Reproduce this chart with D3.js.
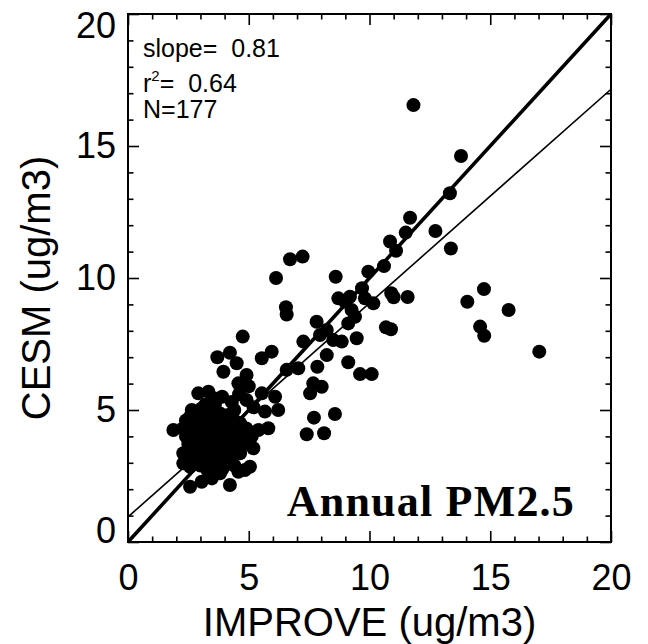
<!DOCTYPE html>
<html>
<head>
<meta charset="utf-8">
<script src="https://cdn.jsdelivr.net/npm/d3@7"></script>
<style>
  body { margin: 0; background: #fff; }
  svg { display: block; }
  text { font-family: "Liberation Sans", Arial, Helvetica, sans-serif; fill: #000; white-space: pre; }
</style>
</head>
<body>
<svg width="648" height="644"></svg>
<script>
// ---- data (IMPROVE obs, CESM model), ug/m3 ----
const spreadSites = [
  [11.82,16.55],[13.79,14.62],[13.33,13.21],[11.68,12.28],[11.5,11.72],[10.85,11.38],[11.1,11.03],[10.6,10.45],[12.73,11.78],[13.37,11.12],
  [10.9,9.42],[11.0,9.27],[11.58,9.28],[14.74,9.58],[14.05,9.1],[15.76,8.79],[10.68,8.13],[10.89,8.06],[14.58,8.16],[14.75,7.81],
  [17.03,7.21],[6.71,10.71],[7.23,10.81],[6.13,10.0],[8.6,10.05],[9.95,10.24],[9.69,9.61],[8.71,9.23],[9.19,9.29],[8.99,9.1],
  [9.81,9.23],[10.16,9.04],[9.26,8.79],[9.4,8.53],[9.12,8.28],[7.81,8.34],[8.23,8.03],[7.95,7.84],[8.5,7.65],[8.85,7.59],
  [9.47,7.72],[7.26,7.59],[8.23,7.08],[6.57,6.52],[7.05,6.58],[7.84,6.64],[9.12,6.81],[9.61,6.36],[10.09,6.36],[7.67,6.01],
  [8.02,5.88],[7.54,5.63],[7.7,4.71],[8.57,4.85],[7.4,4.08],[8.12,4.12],[6.54,8.89],[6.57,8.62],[4.75,7.78],[3.7,7.0],
  [4.22,7.17],[3.95,6.45],[4.5,6.77],[4.57,6.01],[2.91,5.63],[3.33,5.69],[3.6,5.44],[2.64,5.0],[3.05,5.06],[3.4,4.94],
  [3.81,4.87],[4.15,4.81],[1.88,4.24],[2.57,4.75],[2.29,3.36],[2.57,2.85],[2.57,2.09],[3.05,2.28],[3.47,2.41],[3.81,2.6],
  [4.22,2.16],[4.57,2.66],[5.54,6.96],[5.95,7.21],[4.91,6.33],[5.54,5.63],[6.09,5.5],[4.91,5.38],[6.22,5.0],[5.67,4.94],
  [5.81,4.31],[5.4,4.24],[5.12,3.99],[4.64,4.5],[5.19,3.55],[4.22,3.23],[4.64,3.36],[4.84,2.73],[5.05,2.85],[3.88,3.99],
  [4.15,3.74]
];
// the dense low-concentration cluster (mostly overlapping markers)
const clusterSites = [
  [2.4,4.6],[2.8,4.6],[3.2,4.6],[3.6,4.6],[4.0,4.6],[4.4,4.6],
  [2.6,4.3],[3.0,4.3],[3.3,4.3],[3.7,4.3],[4.1,4.3],[4.5,4.3],[4.9,4.3],
  [2.4,4.0],[2.8,4.0],[3.1,4.0],[3.5,4.0],[4.3,4.0],[4.7,4.0],
  [2.5,3.7],[2.9,3.7],[3.2,3.7],[3.6,3.7],[4.0,3.7],[4.4,3.7],[4.8,3.7],
  [2.6,3.4],[3.0,3.4],[3.4,3.4],[3.8,3.4],[4.1,3.4],
  [2.7,3.1],[3.1,3.1],[3.5,3.1],[3.9,3.1],
  [3.0,2.9],[3.4,2.9],[3.7,2.9],
  [3.9,5.5],[4.3,5.3],[4.6,5.6],[5.0,5.9],[5.2,5.1],[4.4,5.0],
  [2.9,4.8],[3.3,4.8],[3.7,4.8],
  [2.7,4.45],[3.1,4.45],[3.5,4.45],[3.9,4.45],[4.3,4.45],
  [2.5,4.15],[2.9,4.15],[3.3,4.15],[3.7,4.15],[4.0,4.15],
  [2.7,3.85],[3.0,3.85],[3.4,3.85],[3.8,3.85],[4.2,3.85],
  [2.8,3.55],[3.2,3.55],[3.6,3.55],[4.0,3.55],
  [2.9,3.25],[3.3,3.25],[3.7,3.25],
  [3.2,5.2],[3.6,5.2],
  [3.3,2.7],[2.29,4.31],[2.29,2.98],[3.9,2.75],[4.4,2.9]
];
const sites = spreadSites.concat(clusterSites);

const fitSlope = 0.81;
const fitIntercept = 0.95;
const statLines = ['slope=  0.81', '=  0.64', 'N=177'];
const axisMax = 20;
const majorTicks = [0, 5, 10, 15, 20];
const minorTicks = d3.range(0, 21, 1).filter(v => v % 5 !== 0);

// ---- layout ----
const svg = d3.select('svg');
const plot = { left: 128, right: 611, top: 14, bottom: 542 };
const plotW = plot.right - plot.left;
const plotH = plot.bottom - plot.top;

const x = d3.scaleLinear().domain([0, axisMax]).range([0, plotW]);
const y = d3.scaleLinear().domain([0, axisMax]).range([plotH, 0]);

const g = svg.append('g').attr('transform', `translate(${plot.left},${plot.top})`);

g.append('clipPath').attr('id', 'clip')
  .append('rect').attr('width', plotW).attr('height', plotH);

// points
g.append('g').attr('class', 'points')
  .selectAll('circle')
  .data(sites)
  .enter()
  .append('circle')
    .attr('cx', d => x(d[0]))
    .attr('cy', d => y(d[1]))
    .attr('r', 7)
    .attr('fill', '#000');

// 1:1 line and regression line
const line = d3.line().x(d => x(d[0])).y(d => y(d[1]));
g.append('path')
  .attr('clip-path', 'url(#clip)')
  .attr('d', line([[0, 0], [axisMax, axisMax]]))
  .attr('stroke', '#000').attr('stroke-width', 3.6).attr('fill', 'none');
g.append('path')
  .attr('clip-path', 'url(#clip)')
  .attr('d', line([[0, fitIntercept], [axisMax, fitIntercept + fitSlope * axisMax]]))
  .attr('stroke', '#000').attr('stroke-width', 1.6).attr('fill', 'none');

// axes: major + minor ticks on all four sides, pointing inward
const majorLen = 11, minorLen = 5.5;
function addAxis(axis, transform, labelled) {
  const grp = g.append('g').attr('transform', transform).call(axis);
  grp.select('path.domain').remove();
  grp.selectAll('line').attr('stroke', '#000').attr('stroke-width', 1.6);
  if (!labelled) grp.selectAll('text').remove();
  return grp;
}

const xAxisG = addAxis(d3.axisBottom(x).tickValues(majorTicks).tickSize(-majorLen).tickPadding(22).tickFormat(d3.format('d')),
  `translate(0,${plotH})`, true);
addAxis(d3.axisBottom(x).tickValues(minorTicks).tickSize(-minorLen).tickFormat(''), `translate(0,${plotH})`, false);
addAxis(d3.axisTop(x).tickValues(majorTicks).tickSize(-majorLen), 'translate(0,0)', false);
addAxis(d3.axisTop(x).tickValues(minorTicks).tickSize(-minorLen), 'translate(0,0)', false);

const yAxisG = addAxis(d3.axisLeft(y).tickValues(majorTicks).tickSize(-majorLen).tickPadding(12).tickFormat(d3.format('d')),
  'translate(0,0)', true);
addAxis(d3.axisLeft(y).tickValues(minorTicks).tickSize(-minorLen).tickFormat(''), 'translate(0,0)', false);
addAxis(d3.axisRight(y).tickValues(majorTicks).tickSize(-majorLen), `translate(${plotW},0)`, false);
addAxis(d3.axisRight(y).tickValues(minorTicks).tickSize(-minorLen), `translate(${plotW},0)`, false);

xAxisG.selectAll('text').attr('font-size', 36).attr('fill', '#000')
  .attr('font-family', '"Liberation Sans", Arial, sans-serif');
yAxisG.selectAll('text').attr('font-size', 36).attr('fill', '#000')
  .attr('font-family', '"Liberation Sans", Arial, sans-serif');
// end labels sit slightly inside the frame
yAxisG.selectAll('.tick text').attr('dy', d => d === 0 ? '-0.0em' : d === axisMax ? '0.65em' : '0.32em');

// frame
g.append('rect')
  .attr('width', plotW).attr('height', plotH)
  .attr('fill', 'none').attr('stroke', '#000').attr('stroke-width', 2);

// stats text
const stats = g.append('g').attr('transform', 'translate(15,0)');
stats.append('text').attr('y', 43).attr('font-size', 25).text(statLines[0]);
const r2 = stats.append('text').attr('y', 78).attr('font-size', 25);
r2.append('tspan').text('r');
r2.append('tspan').attr('font-size', 15).attr('dy', -11).text('2');
r2.append('tspan').attr('dy', 11).text(statLines[1]);
stats.append('text').attr('y', 104).attr('font-size', 25).text(statLines[2]);

// panel title
g.append('text')
  .attr('x', plotW - 36).attr('y', plotH - 26)
  .attr('text-anchor', 'end')
  .attr('font-size', 44)
  .attr('font-weight', 'bold')
  .attr('letter-spacing', 1.2)
  .style('font-family', '"Liberation Serif", "Times New Roman", serif')
  .text('Annual PM2.5');

// axis titles
svg.append('text')
  .attr('x', plot.left + plotW / 2).attr('y', 636)
  .attr('text-anchor', 'middle').attr('font-size', 40)
  .text('IMPROVE (ug/m3)');
svg.append('text')
  .attr('transform', `translate(50,${plot.top + plotH / 2 + 10}) rotate(-90)`)
  .attr('text-anchor', 'middle').attr('font-size', 40)
  .text('CESM (ug/m3)');
</script>
</body>
</html>
